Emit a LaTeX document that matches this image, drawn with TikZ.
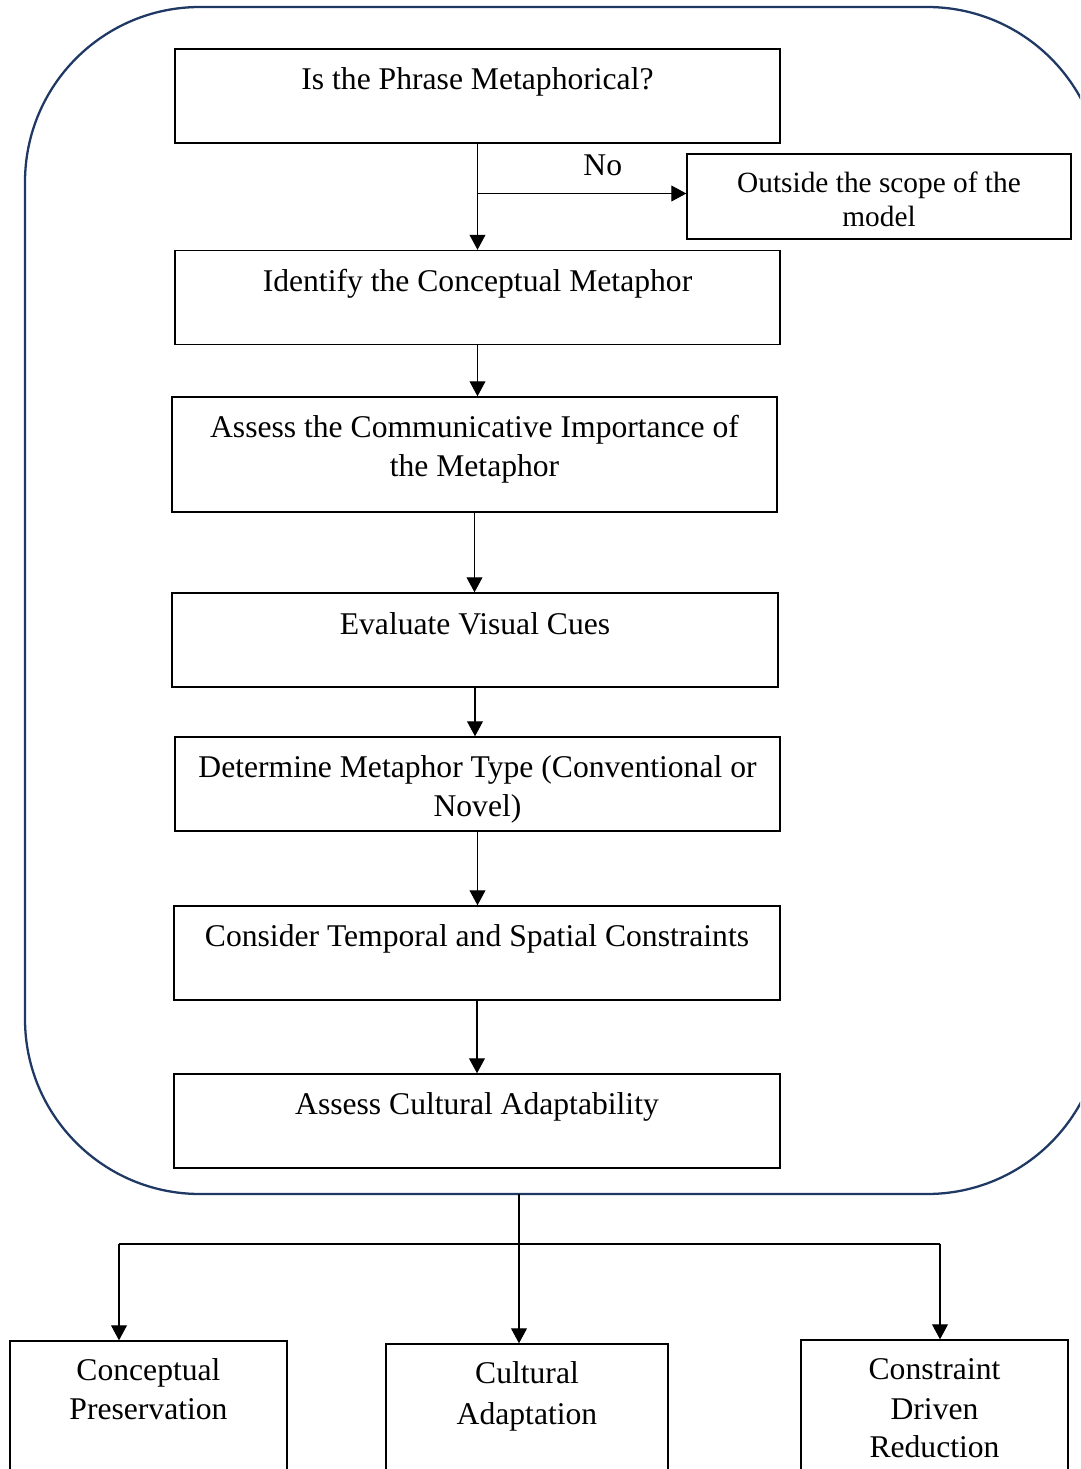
\documentclass[tikz,border=0pt]{standalone}
\usepackage{fontspec}
\setmainfont{Liberation Serif}
\usepackage{tikz}
\usetikzlibrary{positioning, calc, arrows.meta}
\definecolor{framenavy}{RGB}{31,56,100}
\newcommand{\pxu}{0.02cm}

\begin{document}
\begin{tikzpicture}[x=\pxu, y=-\pxu, every node/.style={font=\fontsize{18}{22}\selectfont},
    box/.style={draw, line width=0.8pt, inner sep=0pt, minimum width=605*\pxu, minimum height=94*\pxu},
    lbl/.style={align=center, inner sep=0pt},
    arr/.style={line width=0.6pt, -{Triangle[length=8.5pt, width=9pt]}}]
    \useasboundingbox (0,0) rectangle (1080,1469);
    \clip (0,0) rectangle (1080,1469);

    \node[draw=framenavy, line width=1.3pt, rounded corners=3.5cm, minimum width=1077*\pxu, minimum height=1187*\pxu] (frame) at (563.5,600.5) {};

    \node[box] (q) at (477.5,96) {};
    \node[box, minimum width=384*\pxu, minimum height=85*\pxu] (out) at (879,196.5) {};
    \node[box] (idf) at (477.5,297.5) {};
    \node[box, minimum height=115*\pxu] (imp) at (474.5,454.5) {};
    \node[box, minimum width=606*\pxu] (vis) at (475,640) {};
    \node[box] (typ) at (477.5,784) {};
    \node[box, minimum width=606*\pxu] (tmp) at (477,953) {};
    \node[box, minimum width=606*\pxu] (cul) at (477,1121) {};
    \node[box, minimum width=277*\pxu, minimum height=159*\pxu] (con) at (148.5,1420.5) {};
    \node[box, minimum width=282*\pxu, minimum height=156*\pxu] (ada) at (527,1422) {};
    \node[box, minimum width=267*\pxu, minimum height=160*\pxu] (red) at (934.5,1420) {};

    \node[lbl] (tq) at ($(q.north)+(0,34)$) {Is the Phrase Metaphorical?};
    \node[lbl, font=\fontsize{16.7}{19.8}\selectfont] (tout) at ($(out.north)+(0,46)$) {Outside the scope of the\\model};
    \node[lbl] (tidf) at ($(idf.north)+(0,34)$) {Identify the Conceptual Metaphor};
    \node[lbl] (timp) at ($(imp.north)+(0,53)$) {Assess the Communicative Importance of\\the Metaphor};
    \node[lbl] (tvis) at ($(vis.north)+(0,31)$) {Evaluate Visual Cues};
    \node[lbl] (ttyp) at ($(typ.north)+(0,53)$) {Determine Metaphor Type (Conventional or\\Novel)};
    \node[lbl] (ttmp) at ($(tmp.north)+(0,34)$) {Consider Temporal and Spatial Constraints};
    \node[lbl] (tcul) at ($(cul.north)+(0,34)$) {Assess Cultural Adaptability};
    \node[lbl] (tcon) at ($(con.north)+(0,49)$) {Conceptual\\Preservation};
    \node[lbl] (tada) at ($(ada.north)+(0,53)$) {Cultural\\[1pt]Adaptation};
    \node[lbl] (tred) at ($(red.north)+(0,69)$) {Constraint\\[0.5pt]Driven\\Reduction};

    \coordinate (brk) at ($(q.south |- out.west)+(0,-3)$);
    \draw[arr] (q.south) -- (idf.north);
    \draw[arr] (brk) -- node[lbl, pos=0.6, above=9.5pt] (no) {No} (brk -| out.west);
    \draw[arr] (idf.south) -- (idf.south |- imp.north);
    \draw[arr] (imp.south) -- (imp.south |- vis.north);
    \draw[arr] (vis.south) -- (vis.south |- typ.north);
    \draw[arr] (typ.south) -- (typ.south |- tmp.north);
    \draw[arr] (tmp.south) -- (tmp.south |- cul.north);

    \coordinate (fork) at (519,1194);
    \coordinate (hl) at (119,1244);
    \coordinate (hr) at (940,1244);
    \draw[arr] (fork) -- (fork |- ada.north);
    \draw[line width=0.6pt] (hl) -- (hr);
    \draw[arr] (hl) -- (hl |- con.north);
    \draw[arr] (hr) -- (hr |- red.north);
\end{tikzpicture}
\end{document}
